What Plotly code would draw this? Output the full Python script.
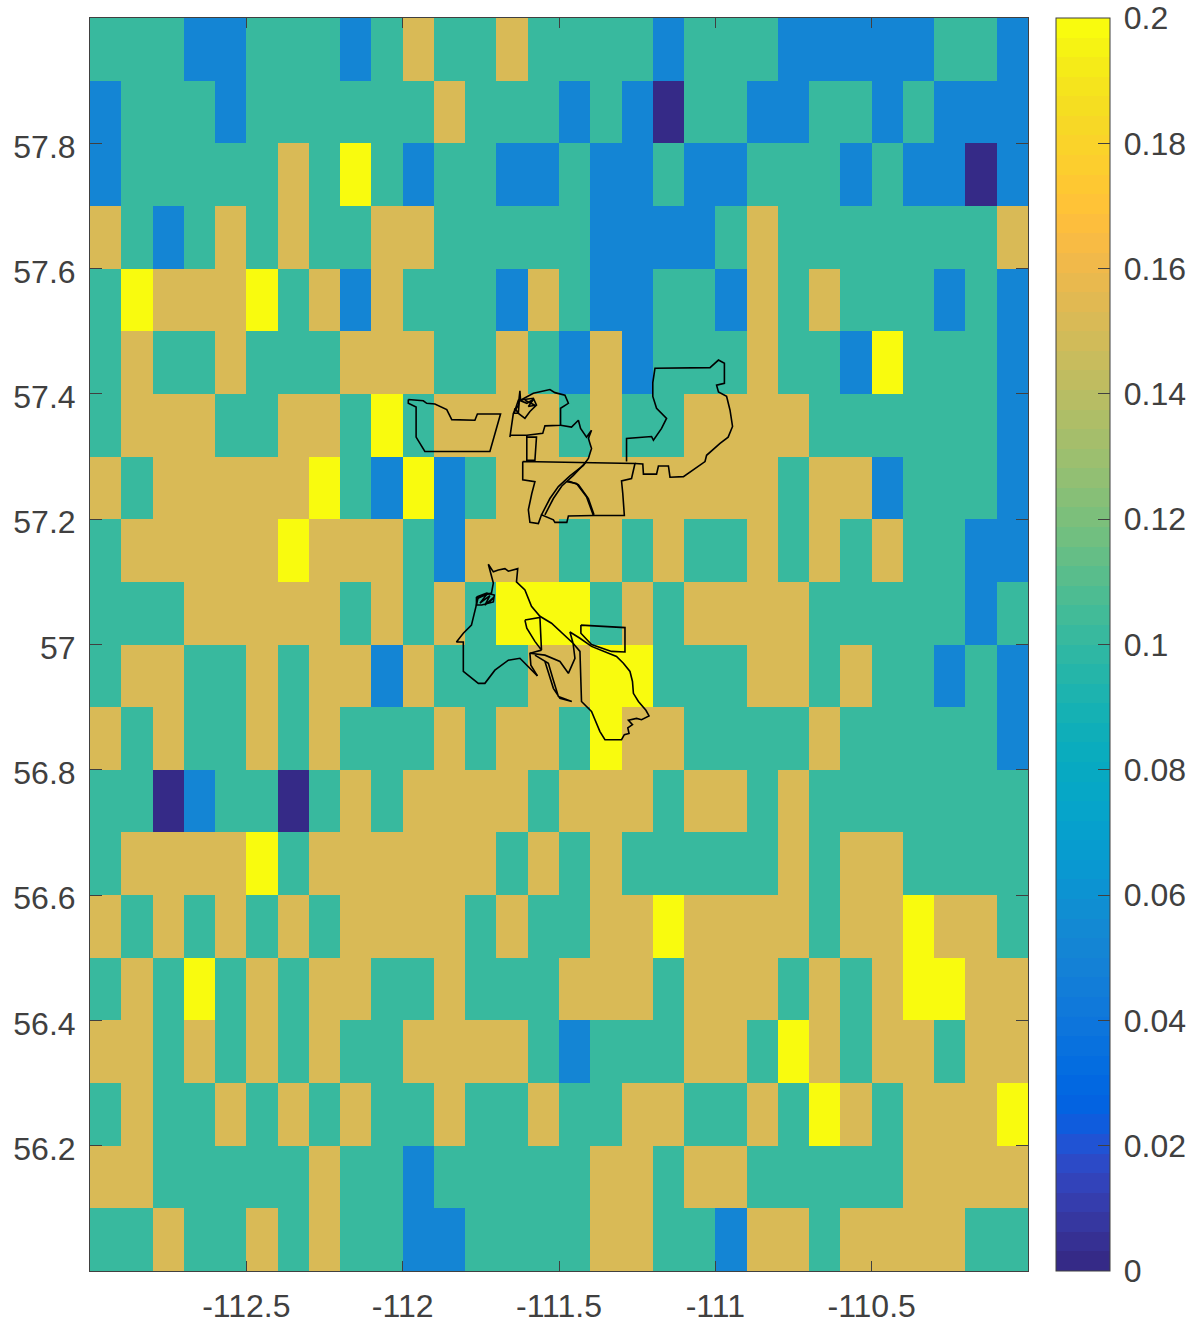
import plotly.graph_objects as go

# Cell levels
D, B, G, O, Y = 0.0, 0.05, 0.1, 0.15, 0.2

# rows run from north (top) to south (bottom); 30 columns west to east
grid_values = [
    [G,G,G,B,B, G,G,G,B,G, O,G,G,O,G, G,G,G,B,G, G,G,B,B,B, B,B,G,G,B],
    [B,G,G,G,B, G,G,G,G,G, G,O,G,G,G, B,G,B,D,G, G,B,B,G,G, B,G,B,B,B],
    [B,G,G,G,G, G,O,G,Y,G, B,G,G,B,B, G,B,B,G,B, B,G,G,G,B, G,B,B,D,B],
    [O,G,B,G,O, G,O,G,G,O, O,G,G,G,G, G,B,B,B,B, G,O,G,G,G, G,G,G,G,O],
    [G,Y,O,O,O, Y,G,O,B,O, G,G,G,B,O, G,B,B,G,G, B,O,G,O,G, G,G,B,G,B],
    [G,O,G,G,O, G,G,G,O,O, O,G,G,O,G, B,O,B,G,G, G,O,G,G,B, Y,G,G,G,B],
    [G,O,O,O,G, G,O,O,G,Y, G,O,O,O,O, G,O,G,G,O, O,O,O,G,G, G,G,G,G,B],
    [O,G,O,O,O, O,O,Y,G,B, Y,B,G,O,O, O,O,O,O,O, O,O,G,O,O, B,G,G,G,B],
    [G,O,O,O,O, O,Y,O,O,O, G,B,O,O,O, G,O,G,O,G, G,O,G,O,G, O,G,G,B,B],
    [G,G,G,O,O, O,O,O,G,O, G,O,G,Y,Y, Y,G,O,G,O, O,O,O,G,G, G,G,G,B,G],
    [G,O,O,G,G, O,G,O,O,B, O,G,G,G,O, O,Y,Y,G,G, G,O,O,G,O, G,G,B,G,B],
    [O,G,O,G,G, O,G,O,G,G, G,O,G,O,O, G,Y,O,O,G, G,G,G,O,G, G,G,G,G,B],
    [G,G,D,B,G, G,D,G,O,G, O,O,O,O,G, O,O,O,G,O, O,G,O,G,G, G,G,G,G,G],
    [G,O,O,O,O, Y,G,O,O,O, O,O,O,G,O, G,O,G,G,G, G,G,O,G,O, O,G,G,G,G],
    [O,G,O,G,O, G,O,G,O,O, O,O,G,O,G, G,O,O,Y,O, O,O,O,G,O, O,Y,O,O,G],
    [G,O,G,Y,G, O,G,O,O,G, G,O,G,G,G, O,O,O,G,O, O,O,G,O,G, O,Y,Y,O,O],
    [O,O,G,O,G, O,G,O,G,G, O,O,O,O,G, B,G,G,G,O, O,G,Y,O,G, O,O,G,O,O],
    [G,O,G,G,O, G,O,G,O,G, G,O,G,G,O, G,G,O,O,G, G,O,G,Y,O, G,O,O,O,Y],
    [O,O,G,G,G, G,G,O,G,G, B,G,G,G,G, G,O,O,G,O, O,G,G,G,G, G,O,O,O,O],
    [G,G,O,G,G, O,G,O,G,G, B,B,G,G,G, G,O,O,G,G, B,O,O,G,O, O,O,O,G,G],
]

cell_lons = [-112.95 + 0.1 * i for i in range(30)]
cell_lats = [57.95 - 0.1 * j for j in range(20)]

x_tick_vals = [-112.5, -112, -111.5, -111, -110.5]
x_tick_text = ["-112.5", "-112", "-111.5", "-111", "-110.5"]
y_tick_vals = [56.2, 56.4, 56.6, 56.8, 57, 57.2, 57.4, 57.6, 57.8]
y_tick_text = ["56.2", "56.4", "56.6", "56.8", "57", "57.2", "57.4", "57.6", "57.8"]
cb_tick_vals = [0, 0.02, 0.04, 0.06, 0.08, 0.1, 0.12, 0.14, 0.16, 0.18, 0.2]
cb_tick_text = ["\u20090", "\u20090.02", "\u20090.04", "\u20090.06", "\u20090.08", "\u20090.1",
                "\u20090.12", "\u20090.14", "\u20090.16", "\u20090.18", "\u20090.2"]

# Outlines in lon / lat
west_lon = [-111.982,-111.934,-111.923,-111.897,-111.859,-111.843,-111.769,-111.761,-111.687,-111.721,-111.929,-111.957,-111.957,-111.982,-111.982]
west_lat = [57.391,57.389,57.385,57.384,57.375,57.359,57.358,57.368,57.368,57.308,57.308,57.331,57.379,57.385,57.391]

north_lon = [-111.657,-111.646,-111.630,-111.625,-111.623,-111.582,-111.529,-111.513,-111.481,-111.470,-111.495,-111.495,-111.545,-111.552,-111.603,-111.655]
north_lat = [57.331,57.369,57.382,57.405,57.390,57.401,57.407,57.402,57.398,57.385,57.377,57.350,57.349,57.337,57.334,57.334]

blob_lon = [-111.644,-111.630,-111.582,-111.572,-111.593,-111.609,-111.630,-111.644,-111.641,-111.630,-111.627,-111.603,-111.582,-111.598,-111.577,-111.609]
blob_lat = [57.369,57.390,57.393,57.382,57.372,57.361,57.369,57.369,57.377,57.369,57.390,57.385,57.391,57.380,57.382,57.390]

notch_lon = [-111.603,-111.603,-111.577,-111.572,-111.603]
notch_lat = [57.334,57.294,57.294,57.331,57.331]

river_lon = [-111.495,-111.460,-111.438,-111.431,-111.412,-111.396,-111.406,-111.396,-111.406,-111.422,-111.465,-111.502,-111.529,-111.556]
river_lat = [57.350,57.347,57.358,57.345,57.331,57.342,57.329,57.313,57.297,57.286,57.269,57.252,57.233,57.207]

river2_lon = [-111.412,-111.454,-111.491,-111.518,-111.545]
river2_lat = [57.292,57.270,57.253,57.233,57.207]

arc_lon = [-111.475,-111.444,-111.412,-111.390]
arc_lat = [57.260,57.257,57.236,57.206]

arc2_lon = [-111.470,-111.438,-111.406,-111.388]
arc2_lat = [57.261,57.255,57.233,57.207]

south_block_lon = [-111.616,-111.616,-111.577,-111.587,-111.598,-111.593,-111.566,-111.556,-111.518,-111.513,-111.475,-111.470,-111.390,-111.291,-111.296,-111.300,-111.268,-111.257,-111.616]
south_block_lat = [57.292,57.263,57.260,57.241,57.215,57.195,57.193,57.207,57.199,57.195,57.195,57.205,57.206,57.206,57.241,57.261,57.265,57.289,57.292]

east_lon = [-111.284,-111.284,-111.204,-111.198,-111.172,-111.156,-111.188,-111.200,-111.200,-111.193,-111.017,-110.990,-110.971,-110.971,-110.996,-110.990,-110.964,-110.953,-110.945,-110.959,-110.985,-111.028,-111.033,-111.102,-111.145,-111.150,-111.182,-111.188,-111.230,-111.232,-111.257]
east_lat = [57.292,57.329,57.332,57.326,57.345,57.361,57.377,57.396,57.418,57.441,57.442,57.454,57.449,57.417,57.414,57.403,57.396,57.374,57.348,57.331,57.321,57.302,57.292,57.268,57.267,57.285,57.285,57.272,57.272,57.288,57.289]

delta_lon = [-111.569,-111.598,-111.625,-111.662,-111.705,-111.737,-111.758,-111.806,-111.806,-111.828,-111.806,-111.780,-111.764,-111.758,-111.716,-111.710,-111.726,-111.710,-111.694,-111.673,-111.662,-111.632,-111.636,-111.609,-111.588,-111.561,-111.524,-111.481,-111.455,-111.433,-111.428,-111.396,-111.369,-111.353,-111.300,-111.291,-111.276,-111.280,-111.265,-111.278,-111.252,-111.236,-111.212,-111.222,-111.246,-111.262,-111.265,-111.273,-111.294,-111.316,-111.353,-111.396,-111.433,-111.465,-111.455]
delta_lat = [56.950,56.965,56.978,56.975,56.959,56.938,56.938,56.957,57.004,57.004,57.018,57.031,57.063,57.076,57.082,57.098,57.128,57.116,57.119,57.121,57.117,57.121,57.100,57.087,57.061,57.045,57.034,57.015,57.002,56.989,56.909,56.893,56.861,56.848,56.848,56.856,56.858,56.867,56.872,56.879,56.882,56.880,56.886,56.895,56.909,56.922,56.941,56.957,56.970,56.981,56.989,56.997,57.010,57.020,57.002]

box_lon = [-111.430,-111.289,-111.289,-111.332,-111.396,-111.430,-111.430]
box_lat = [57.031,57.027,56.988,56.989,57.000,57.018,57.031]

loop_lon = [-111.609,-111.561,-111.556,-111.577,-111.603,-111.609]
loop_lat = [57.039,57.043,56.991,57.005,57.026,57.039]

inlet1_lon = [-111.556,-111.593,-111.590,-111.569]
inlet1_lat = [56.991,56.986,56.967,56.950]

inlet2_lon = [-111.593,-111.545,-111.497,-111.470,-111.449,-111.455]
inlet2_lat = [56.986,56.983,56.973,56.954,56.978,57.002]

inlet3_lon = [-111.577,-111.534,-111.518,-111.502,-111.459,-111.497,-111.518,-111.545]
inlet3_lat = [56.983,56.970,56.943,56.917,56.909,56.914,56.930,56.973]

lake_lon = [-111.764,-111.731,-111.707,-111.710,-111.747,-111.764,-111.764,-111.758,-111.731,-111.753,-111.721,-111.737,-111.707,-111.726]
lake_lat = [57.076,57.082,57.079,57.068,57.063,57.063,57.076,57.074,57.080,57.066,57.078,57.063,57.076,57.066]

outlines = [
    (west_lon, west_lat), (north_lon, north_lat), (blob_lon, blob_lat), (notch_lon, notch_lat),
    (river_lon, river_lat), (river2_lon, river2_lat), (arc_lon, arc_lat), (arc2_lon, arc2_lat),
    (south_block_lon, south_block_lat), (east_lon, east_lat), (delta_lon, delta_lat),
    (box_lon, box_lat), (loop_lon, loop_lat), (inlet1_lon, inlet1_lat),
    (inlet2_lon, inlet2_lat), (inlet3_lon, inlet3_lat), (lake_lon, lake_lat),
]

# 64-level parula palette
parula = [
    (0.2081,0.1663,0.5292),(0.2116,0.1898,0.5777),(0.2123,0.2138,0.6270),(0.2081,0.2386,0.6771),
    (0.1959,0.2645,0.7279),(0.1707,0.2919,0.7792),(0.1253,0.3242,0.8303),(0.0591,0.3598,0.8683),
    (0.0117,0.3875,0.8820),(0.0060,0.4086,0.8828),(0.0165,0.4266,0.8786),(0.0329,0.4430,0.8720),
    (0.0498,0.4586,0.8641),(0.0629,0.4737,0.8554),(0.0723,0.4887,0.8467),(0.0779,0.5040,0.8384),
    (0.0793,0.5200,0.8312),(0.0749,0.5375,0.8263),(0.0641,0.5570,0.8240),(0.0488,0.5772,0.8228),
    (0.0343,0.5966,0.8199),(0.0265,0.6137,0.8135),(0.0239,0.6287,0.8038),(0.0231,0.6418,0.7913),
    (0.0228,0.6535,0.7768),(0.0267,0.6642,0.7607),(0.0384,0.6743,0.7436),(0.0590,0.6838,0.7254),
    (0.0843,0.6928,0.7062),(0.1133,0.7015,0.6859),(0.1453,0.7098,0.6646),(0.1801,0.7177,0.6424),
    (0.2178,0.7250,0.6193),(0.2586,0.7317,0.5954),(0.3022,0.7376,0.5712),(0.3482,0.7424,0.5473),
    (0.3953,0.7459,0.5244),(0.4420,0.7481,0.5033),(0.4871,0.7491,0.4840),(0.5300,0.7491,0.4661),
    (0.5709,0.7485,0.4494),(0.6099,0.7473,0.4337),(0.6473,0.7456,0.4188),(0.6834,0.7435,0.4044),
    (0.7184,0.7411,0.3905),(0.7525,0.7384,0.3768),(0.7858,0.7356,0.3633),(0.8185,0.7327,0.3498),
    (0.8507,0.7299,0.3360),(0.8824,0.7274,0.3217),(0.9139,0.7258,0.3063),(0.9450,0.7261,0.2886),
    (0.9739,0.7314,0.2666),(0.9938,0.7455,0.2403),(0.9990,0.7653,0.2164),(0.9955,0.7861,0.1967),
    (0.9880,0.8066,0.1794),(0.9789,0.8271,0.1633),(0.9697,0.8481,0.1475),(0.9626,0.8705,0.1309),
    (0.9589,0.8949,0.1132),(0.9598,0.9218,0.0948),(0.9661,0.9514,0.0755),(0.9763,0.9831,0.0538),
]
EPS = 1e-5
colorscale = []
for i, (r, g, b) in enumerate(parula):
    c = f"rgb({round(r*255)},{round(g*255)},{round(b*255)})"
    colorscale.append([0 if i == 0 else i / 64 - EPS, c])
    colorscale.append([1 if i == 63 else (i + 1) / 64 - 2 * EPS, c])

TEXT = "#404040"
LINE = "#404040"
FONT = dict(family="Liberation Sans, Arial, sans-serif", size=32, color=TEXT)

fig = go.Figure()
fig.add_trace(go.Heatmap(
    z=grid_values, x=cell_lons, y=cell_lats, zmin=0, zmax=0.2, zsmooth=False,
    colorscale=colorscale, hoverinfo="skip",
    colorbar=dict(
        x=(1056 - 90) / 938, xanchor="left", xpad=0, y=0.5, yanchor="middle",
        len=1, lenmode="fraction", ypad=0, thickness=54, thicknessmode="pixels",
        outlinecolor=LINE, outlinewidth=1, ticks="inside", ticklen=12, tickcolor=LINE, tickwidth=1,
        tickmode="array", tickvals=cb_tick_vals, ticktext=cb_tick_text, tickfont=FONT,
        ticklabeloverflow="allow",
    ),
))
for lon, lat in outlines:
    fig.add_trace(go.Scatter(x=lon, y=lat, mode="lines", showlegend=False, hoverinfo="skip",
                             line=dict(color="black", width=1.6)))

fig.update_layout(
    width=1190, height=1327, paper_bgcolor="white", plot_bgcolor="white",
    margin=dict(l=90, t=18, r=162, b=56, autoexpand=False), font=FONT, showlegend=False,
    xaxis=dict(range=[-113, -110], tickmode="array", tickvals=x_tick_vals, ticktext=x_tick_text,
               ticks="inside", ticklen=10, tickcolor=LINE, tickwidth=1, showgrid=False, zeroline=False,
               showline=True, linecolor=LINE, linewidth=1, mirror="ticks", tickfont=FONT, layer="above traces",
               ticklabelstandoff=7),
    yaxis=dict(range=[56, 58], tickmode="array", tickvals=y_tick_vals, ticktext=y_tick_text,
               ticks="inside", ticklen=12, tickcolor=LINE, tickwidth=1, showgrid=False, zeroline=False,
               showline=True, linecolor=LINE, linewidth=1, mirror="ticks", tickfont=FONT, layer="above traces",
               ticklabelstandoff=7, ticklabelshift=3),
)

fig.write_html(
    "out.html",
    config={"displayModeBar": False},
    post_script="document.body.style.margin='0';document.documentElement.style.overflow='hidden';",
)
